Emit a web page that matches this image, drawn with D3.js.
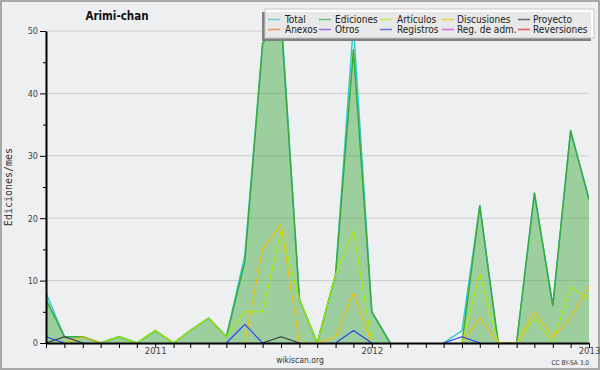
<!DOCTYPE html>
<html><head><meta charset="utf-8">
<script src="https://cdn.jsdelivr.net/npm/d3@7/dist/d3.min.js"></script>
<style>body{margin:0;background:#eeeff1}svg{display:block}</style>
</head><body>
<svg id="c" width="600" height="370"></svg>
<script>
// ---- data ----
const title = "Arimi-chan";
const startMonth = [2010, 6]; // July 2010
const monthCount = 31;        // Jul 2010 .. Jan 2013
const total       = [8,1,1,0,1,0,2,0,2,4,1,14,48,53,7,0,11,51,5,0,0,0,0,2,22,0,0,24,6,34,23];
const ediciones   = [7,1,1,0,1,0,2,0,2,4,1,13,48,52,7,0,11,47,5,0,0,0,0,0,22,0,0,24,6,34,23];
const articulos   = [0,0,0,0,1,0,2,0,2,4,1,5,5,18,7,0,11,18,0,0,0,0,0,0,11,0,0,4,0,9,7];
const discusiones = [0,0,1,0,0,0,0,0,0,0,0,0,15,19,0,0,1,8,0,0,0,0,0,0,4,0,0,5,1,4,9];
const proyecto    = [0,1,0,0,0,0,0,0,0,0,0,0,0,1,0,0,0,0,0,0,0,0,0,0,0,0,0,0,0,0,0];
const anexos      = new Array(31).fill(0);
const otros       = new Array(31).fill(0);
const registros   = [1,0,0,0,0,0,0,0,0,0,0,3,0,0,0,0,0,2,0,0,0,0,0,1,0,0,0,0,0,0,0];
const regAdm      = new Array(31).fill(0);
const reversiones = new Array(31).fill(0);
const seriesNames = ["Total","Ediciones","Artículos","Discusiones","Proyecto","Anexos","Otros","Registros","Reg. de adm.","Reversiones"];
const seriesData  = [total,ediciones,articulos,discusiones,proyecto,anexos,otros,registros,regAdm,reversiones];
const seriesColors= ["#2fcccc","#3aaa3a","#aaee00","#f5c000","#333333","#ff6622","#7a33ee","#2a3aee","#dd33dd","#ee1a1a"];
const yTicks = [0,10,20,30,40,50];
const yMinorTicks = [5,15,25,35,45];
const yLabel = "Ediciones/mes";

// ---- chart ----
const svg = d3.select("#c");
const months = d3.range(monthCount).map(i => new Date(startMonth[0], startMonth[1] + i, 1));
const x = d3.scaleTime().domain([months[0], months[monthCount-1]]).range([46, 589]);
const y = d3.scaleLinear().domain([0, 50]).range([343, 31]);

svg.append("rect").attr("x",1).attr("y",1).attr("width",598).attr("height",368)
  .attr("fill","#eeeff1").attr("stroke","#a8a8a8").attr("stroke-width",2);

svg.append("defs").append("clipPath").attr("id","clip")
  .append("rect").attr("x",46).attr("y",31).attr("width",543).attr("height",312);

// gridlines
svg.append("g").selectAll("line").data(yTicks.filter(v => v > 0)).join("line")
  .attr("x1",46).attr("x2",589).attr("y1",d=>y(d)).attr("y2",d=>y(d))
  .attr("stroke","#cccccc").attr("stroke-width",1);

const plot = svg.append("g").attr("clip-path","url(#clip)");
const def = arr => (d,i) => arr[i] > 0 || (i>0 && arr[i-1] > 0) || (i<arr.length-1 && arr[i+1] > 0);

// Ediciones area
plot.append("path").datum(ediciones)
  .attr("d", d3.area().defined(def(ediciones)).x((d,i)=>x(months[i])).y0(y(0)).y1(d=>y(d)))
  .attr("fill","#3aa63a").attr("fill-opacity",0.45);

seriesData.forEach((arr, k) => {
  plot.append("path").datum(arr)
    .attr("d", d3.line().defined(def(arr)).x((d,i)=>x(months[i])).y(d=>y(d)))
    .attr("fill","none").attr("stroke",seriesColors[k])
    .attr("stroke-width", k < 2 ? 1.5 : 1.1).attr("stroke-linejoin","round");
});

// axes
const fontC = "'DejaVu Sans Condensed','DejaVu Sans',sans-serif";
const yAx = svg.append("g").attr("transform","translate(46,0)")
  .call(d3.axisLeft(y).tickValues(yTicks).tickSize(6).tickSizeOuter(0).tickPadding(2));
yAx.select(".domain").attr("stroke","#000").attr("stroke-width",2);
yAx.selectAll("text").attr("font-family",fontC).attr("font-size",9).attr("fill","#444");
const yMin = svg.append("g").attr("transform","translate(46,0)")
  .call(d3.axisLeft(y).tickValues(yMinorTicks).tickSize(3).tickFormat(""));
yMin.select(".domain").remove();

const xAx = svg.append("g").attr("transform","translate(0,343)")
  .call(d3.axisBottom(x).tickValues(months).tickSize(5).tickSizeOuter(0)
    .tickFormat(d => d.getMonth() === 0 ? d3.timeFormat("%Y")(d) : ""));
xAx.select(".domain").attr("stroke","#000").attr("stroke-width",2);
xAx.selectAll("text").attr("y",11).attr("dy","0").attr("font-family",fontC)
  .attr("font-size",9.5).attr("fill","#444");

// y label
svg.append("text").attr("transform","translate(12,187) rotate(-90)")
  .attr("text-anchor","middle").attr("font-family","'DejaVu Sans Mono',monospace")
  .attr("font-size",10).attr("fill","#333").text(yLabel);

// title
svg.append("text").attr("x",117).attr("y",20).attr("text-anchor","middle")
  .attr("font-family",fontC).attr("font-weight","bold").attr("font-size",11.5)
  .attr("fill","#111").text(title);

// legend
const lg = svg.append("g");
lg.append("rect").attr("x",262).attr("y",12).attr("width",329).attr("height",29).attr("fill","#808080");
lg.append("rect").attr("x",265).attr("y",9).attr("width",329).attr("height",29)
  .attr("fill","#ffffff").attr("fill-opacity",0.82).attr("stroke","#c8c8c8").attr("stroke-width",1);
const colSw = [268, 319, 380, 442, 518];
const colTx = [285, 335, 397, 457, 533];
seriesNames.forEach((n, k) => {
  const c = k % 5, r = Math.floor(k / 5);
  const yy = 19.5 + r * 10;
  lg.append("line").attr("x1",colSw[c]).attr("x2",colSw[c]+12).attr("y1",yy).attr("y2",yy)
    .attr("stroke",seriesColors[k]).attr("stroke-opacity",0.7).attr("stroke-width",1.5);
  lg.append("text").attr("x",colTx[c]).attr("y",yy+3.5).attr("font-family",fontC)
    .attr("font-size",10).attr("fill","#222").text(n);
});

// footer
svg.append("text").attr("x",300).attr("y",363).attr("text-anchor","middle")
  .attr("font-family",fontC).attr("font-size",8.5).attr("fill","#333").text("wikiscan.org");
svg.append("text").attr("x",589).attr("y",364.5).attr("text-anchor","end")
  .attr("font-family",fontC).attr("font-size",6.5).attr("fill","#333").text("CC BY-SA 3.0");
</script>
</body></html>
